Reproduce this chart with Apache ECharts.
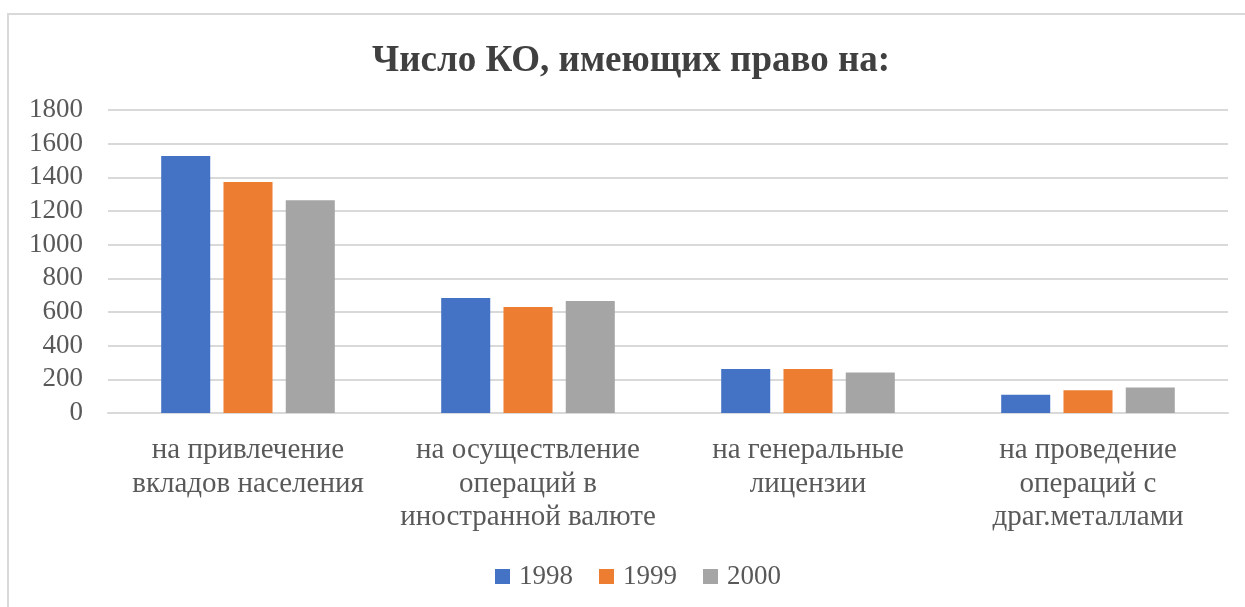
<!DOCTYPE html>
<html>
<head>
<meta charset="utf-8">
<script src="https://cdn.jsdelivr.net/npm/echarts@6/dist/echarts.min.js"></script>
<style>
html,body{margin:0;padding:0;background:#fff;overflow:hidden;}
#frame{position:absolute;left:7px;top:13px;width:1300px;height:700px;border-left:2px solid #d9d9d9;border-top:2px solid #d9d9d9;}
#chart{position:absolute;left:0;top:0;width:1245px;height:607px;}
</style>
</head>
<body>
<div id="frame"></div>
<div id="chart"></div>
<script>
const title = 'Число КО, имеющих право на:';
const categories = ['на привлечение\nвкладов населения', 'на осуществление\nопераций в\nиностранной валюте', 'на генеральные\nлицензии', 'на проведение\nопераций с\nдраг.металлами'];
const seriesNames = ['1998', '1999', '2000'];
const values1998 = [1527, 683, 261, 109];
const values1999 = [1372, 630, 261, 135];
const values2000 = [1264, 665, 240, 151];
const colors = ['#4472c4', '#ed7d31', '#a5a5a5'];
const yTicks = {min: 0, max: 1800, interval: 200};

const font = 'Liberation Serif, Times New Roman, serif';
const chart = echarts.init(document.getElementById('chart'), null, {renderer: 'canvas'});
const data = [values1998, values1999, values2000];
chart.setOption({
  animation: false,
  backgroundColor: 'transparent',
  title: {
    text: title, left: 367, top: 38,
    textStyle: {fontFamily: font, fontSize: 37, fontWeight: 'bold', color: '#404040'}
  },
  legend: {
    data: seriesNames, bottom: 12, left: 490, itemWidth: 15, itemHeight: 15, itemGap: 26,
    icon: 'rect',
    textStyle: {fontFamily: font, fontSize: 27, color: '#595959', padding: [0, 0, 0, 4]}
  },
  grid: {left: 108, right: 17, top: 110, bottom: 194, containLabel: false},
  xAxis: {
    type: 'category', data: categories,
    axisLine: {lineStyle: {color: '#d9d9d9', width: 2}},
    axisTick: {show: false},
    axisLabel: {fontFamily: font, fontSize: 29, color: '#595959', lineHeight: 33.5, margin: 21, interval: 0}
  },
  yAxis: {
    type: 'value', min: yTicks.min, max: yTicks.max, interval: yTicks.interval,
    axisLine: {show: false}, axisTick: {show: false},
    splitLine: {lineStyle: {color: '#d9d9d9', width: 2}},
    axisLabel: {fontFamily: font, fontSize: 27, color: '#595959', margin: 25, formatter: v => String(v)}
  },
  series: seriesNames.map((n, i) => ({
    name: n, type: 'bar', data: data[i], barGap: '27%', barCategoryGap: '38%',
    itemStyle: {color: colors[i]}
  }))
});
</script>
</body>
</html>
